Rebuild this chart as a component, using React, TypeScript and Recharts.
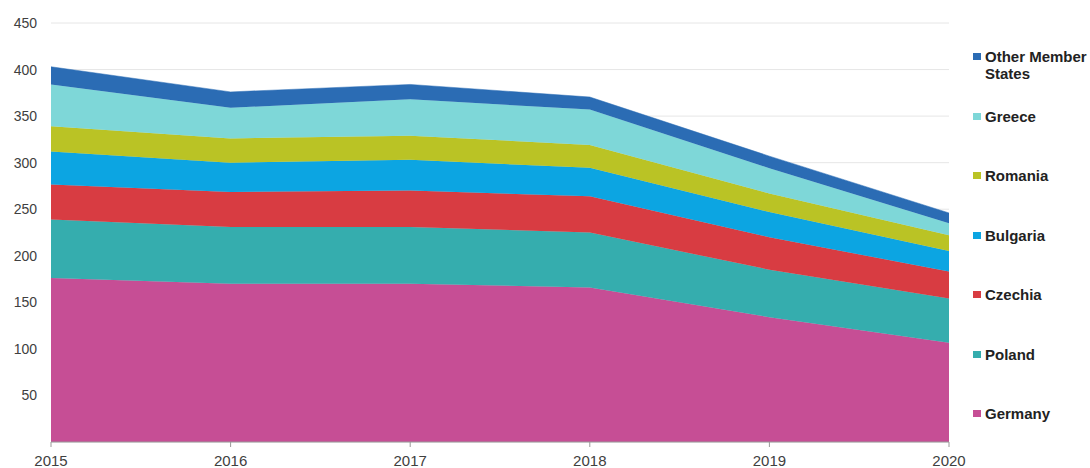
import { AreaChart, Area, XAxis, YAxis, CartesianGrid } from 'recharts';

const years = ['2015', '2016', '2017', '2018', '2019', '2020'];

// stacked bottom to top
const germany = [176, 170, 170, 166, 134, 106.5];
const poland = [63, 61, 61, 59, 51, 47.5];
const czechia = [37.5, 37.6, 39, 39, 35, 29];
const bulgaria = [35.5, 31.4, 33, 30.5, 27, 22];
const romania = [27, 26, 26, 24.5, 20, 17];
const greece = [45, 33, 39, 38, 27, 13];
const other = [19, 17, 16, 13.5, 13, 11];

const yTicks = [50, 100, 150, 200, 250, 300, 350, 400, 450];

const SERIES = [
  { key: 'Germany', values: germany, color: '#c64e95' },
  { key: 'Poland', values: poland, color: '#35adae' },
  { key: 'Czechia', values: czechia, color: '#d83c42' },
  { key: 'Bulgaria', values: bulgaria, color: '#0ca5e2' },
  { key: 'Romania', values: romania, color: '#bac325' },
  { key: 'Greece', values: greece, color: '#7ed7d8' },
  { key: 'Other Member States', values: other, color: '#2b6cb4' },
];

const data = years.map((year, i) => {
  const row: Record<string, string | number> = { year };
  SERIES.forEach((s) => { row[s.key] = s.values[i]; });
  return row;
});

const FONT = '"Liberation Sans", Arial, sans-serif';

export default function App() {
  const legendItems = [...SERIES].reverse();
  return (
    <div style={{ position: 'absolute', left: 0, top: 0, width: 1090, height: 468, overflow: 'hidden', background: '#fff', fontFamily: FONT }}>
      <AreaChart width={1090} height={468} data={data} margin={{ top: 23, right: 141, bottom: 0, left: 0 }}>
        <CartesianGrid horizontal vertical={false} stroke="#e6e6e6" />
        <XAxis
          dataKey="year"
          height={26}
          tick={{ fontSize: 15, fill: '#404040', fontFamily: FONT }}
          tickLine={{ stroke: '#999' }}
          axisLine={{ stroke: '#999' }}
          tickSize={5}
          tickMargin={8}
        />
        <YAxis
          width={51}
          domain={[0, 450]}
          ticks={yTicks}
          axisLine={false}
          tickLine={false}
          tickMargin={8}
          tick={{ fontSize: 14, fill: '#404040', fontFamily: FONT }}
        />
        {SERIES.map((s) => (
          <Area
            key={s.key}
            type="linear"
            dataKey={s.key}
            stackId="a"
            fill={s.color}
            fillOpacity={1}
            stroke={s.color}
            strokeWidth={0.5}
            isAnimationActive={false}
          />
        ))}
      </AreaChart>
      {legendItems.map((s, i) => (
        <div
          key={s.key}
          style={{
            position: 'absolute',
            left: 973,
            top: 48 + i * 59.5,
            width: 117,
            display: 'flex',
            alignItems: 'flex-start',
            fontSize: 15,
            fontWeight: 'bold',
            color: '#222',
            lineHeight: '17px',
          }}
        >
          <span style={{ display: 'inline-block', width: 8, height: 7, background: s.color, marginTop: 5, marginRight: 4, flexShrink: 0 }} />
          <span>{s.key}</span>
        </div>
      ))}
    </div>
  );
}
